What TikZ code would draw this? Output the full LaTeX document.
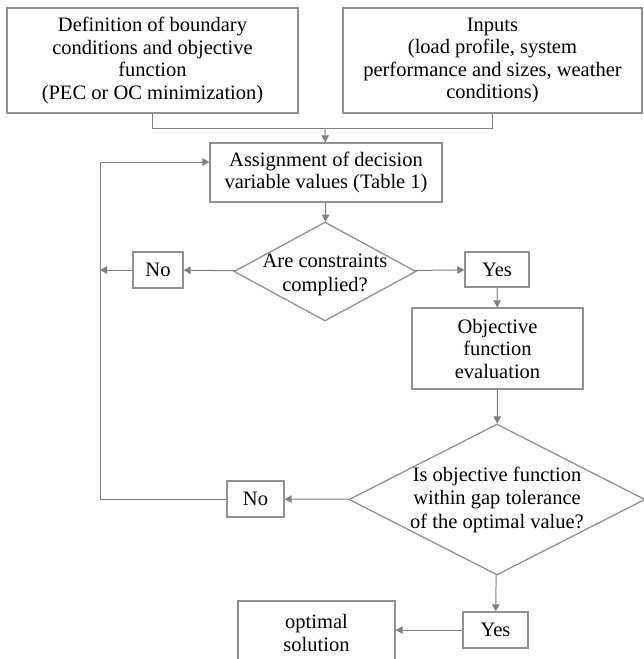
\documentclass[tikz,border=0pt]{standalone}
\usepackage{fontspec}
\setmainfont{Liberation Serif}
\usetikzlibrary{arrows.meta,shapes.geometric}
\definecolor{linegray}{RGB}{128,128,128}
\definecolor{boxgray}{RGB}{145,145,145}
\begin{document}
\begin{tikzpicture}[
        x=1pt, y=-1pt,
        font=\fontsize{20.5}{22.5}\selectfont,
        >={Triangle[length=7pt,width=7.5pt]},
        flow/.style={draw=linegray, line width=1pt},
        block/.style={draw=boxgray, line width=1.3pt, align=center, inner sep=2pt},
        decision/.style={draw=boxgray, line width=1.3pt, diamond, inner sep=0pt},
        dtext/.style={align=center, inner sep=0pt}
      ]
      \useasboundingbox (0,0) rectangle (643,659);

      \node[block, minimum width=291pt, minimum height=105pt] (bound) at (152.5,60.5) {Definition of boundary\\conditions and objective\\function\\(PEC or OC minimization)};
      \node[block, minimum width=299pt, minimum height=105pt] (inputs) at (492.5,60.5) {Inputs\\(load profile, system\\performance and sizes, weather\\conditions)};
      \coordinate (merge) at (325,128);

      \node[block, minimum width=232pt, minimum height=59pt] (assign) at (326,172.5) {Assignment of decision\\variable values (Table 1)};

      \node[decision, minimum width=182pt, minimum height=99pt, label={[dtext, yshift=-3pt, font=\fontsize{20.5}{24}\selectfont]center:Are constraints\\complied?}] (constr) at (325,271.5) {};
      \node[block, minimum width=50pt, minimum height=36pt] (no-constr) at (158,270) {No};
      \node[block, minimum width=64pt, minimum height=35pt] (yes-constr) at (497,269.5) {Yes};

      \node[block, minimum width=171pt, minimum height=81pt] (eval) at (497.5,348.5) {Objective\\function\\evaluation};

      \node[decision, minimum width=296pt, minimum height=151pt, label={[dtext, font=\fontsize{20.5}{23.5}\selectfont]center:Is objective function\\within gap tolerance\\of the optimal value?}] (gap) at (497,499.5) {};
      \node[block, minimum width=57pt, minimum height=36pt] (no-gap) at (255.5,499) {No};
      \node[block, minimum width=65pt, minimum height=36pt] (yes-gap) at (495.5,630) {Yes};

      \node[block, minimum width=157pt, minimum height=64pt] (optimum) at (316.5,633) {optimal\\solution};

      \coordinate (loop-top) at (100,162);
      \coordinate (loop-bottom) at (100,499);

      \draw[flow] (bound) |- (merge);
      \draw[flow] (inputs) |- (merge);
      \draw[flow, ->] (merge) -- (assign);
      \draw[flow, ->] (assign) -- (constr);
      \draw[flow, ->] (constr) -- (no-constr);
      \draw[flow, ->] (no-constr) -- (no-constr.west -| loop-top);
      \draw[flow, ->] (constr) -- (yes-constr);
      \draw[flow, ->] (yes-constr) -- (eval);
      \draw[flow, ->] (eval) -- (gap);
      \draw[flow, ->] (gap) -- (no-gap);
      \draw[flow, ->] (no-gap.west) -- (loop-bottom) -- (loop-top) -- (loop-top -| assign.west);
      \draw[flow, ->] (gap) -- (yes-gap);
      \draw[flow, ->] (yes-gap.west) -- (yes-gap.west -| optimum.east);
    \end{tikzpicture}
\end{document}
